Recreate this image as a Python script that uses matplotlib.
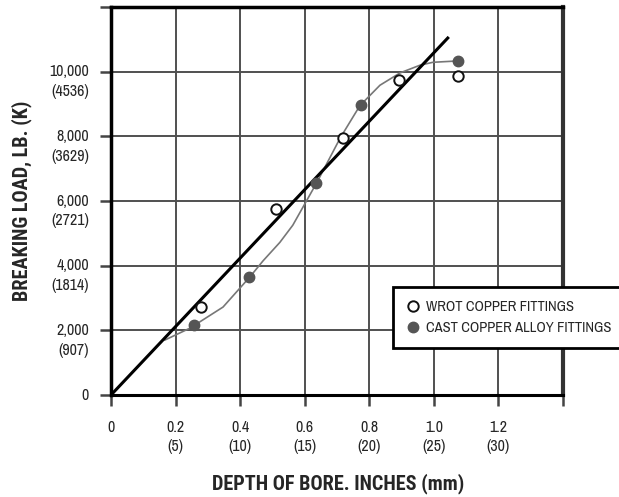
import numpy as np
import matplotlib
matplotlib.use("Agg")
import matplotlib.pyplot as plt

## Fuentes condensadas (como Helvetica Condensed del original)
fam_reg = ['Archivo Narrow', 'Roboto Condensed', 'DejaVu Sans']
fam_bold = ['Roboto Condensed', 'Barlow Condensed', 'DejaVu Sans']
plt.rcParams['font.family'] = fam_reg

## Datos
wrot_x = [0.279, 0.511, 0.718, 0.891, 1.074]
wrot_y = [2720, 5750, 7940, 9740, 9860]

cast_x = [0.257, 0.428, 0.634, 0.774, 1.074]
cast_y = [2160, 3650, 6550, 8960, 10320]

# curva gris (ajuste) leida punto a punto
curve_x = [0.167, 0.245, 0.347, 0.430, 0.471, 0.523, 0.563, 0.594, 0.638,
           0.668, 0.710, 0.771, 0.833, 0.895, 0.957, 0.997, 1.071]
curve_y = [1700, 2070, 2720, 3650, 4150, 4720, 5250, 5800, 6580,
           7150, 7950, 8950, 9580, 9960, 10200, 10290, 10330]

# recta de referencia
line_x = [0.0, 1.043]
line_y = [0, 11040]

xticks = [0, 0.2, 0.4, 0.6, 0.8, 1.0, 1.2]
xlabels = ["0", "0.2", "0.4", "0.6", "0.8", "1.0", "1.2"]
xlabels_mm = ["", "(5)", "(10)", "(15)", "(20)", "(25)", "(30)"]

yticks = [0, 2000, 4000, 6000, 8000, 10000]
ylabels = ["0", "2,000", "4,000", "6,000", "8,000", "10,000"]
ylabels_kg = ["", "(907)", "(1814)", "(2721)", "(3629)", "(4536)"]

txt = "#262626"

fig = plt.figure(figsize=(6.19, 4.97), dpi=100)
ax = fig.add_axes([111/619, 1-395/497, (563-111)/619, (395-7)/497])

ax.set_xlim(0, 1.4)
ax.set_ylim(0, 12000)
ax.set_xticks(np.arange(0, 1.41, 0.2))
ax.set_yticks(np.arange(0, 12001, 2000))
ax.set_xticklabels([])
ax.set_yticklabels([])
ax.grid(True, color="#505050", linewidth=1.4)
ax.set_axisbelow(True)
ax.tick_params(length=8, width=1.8, color="#444444")

ax.spines['left'].set_linewidth(2.5)
ax.spines['bottom'].set_linewidth(2.2)
ax.spines['top'].set_linewidth(2.5)
ax.spines['right'].set_linewidth(3)
ax.spines['right'].set_color("#333333")

## Graficar
ax.plot(curve_x, curve_y, color="#777777", linewidth=1.2, zorder=3)
ax.plot(line_x, line_y, color="black", linewidth=2.2, zorder=4)
ax.plot(wrot_x, wrot_y, 'o', markersize=7.5, markerfacecolor="white",
        markeredgecolor="#111111", markeredgewidth=1.4, zorder=5,
        label="WROT COPPER FITTINGS")
ax.plot(cast_x, cast_y, 'o', markersize=7.5, markerfacecolor="#555555",
        markeredgecolor="#555555", zorder=5, label="CAST COPPER ALLOY FITTINGS")

# etiquetas de los ejes (dos lineas)
fs_tick = 11.5
for v, a, b in zip(yticks, ylabels, ylabels_kg):
    ax.annotate(a, xy=(0, v), xycoords=ax.get_yaxis_transform(), xytext=(-22, 0),
                textcoords='offset pixels', ha='right', va='center', fontsize=fs_tick, color=txt)
    if b:
        ax.annotate(b, xy=(0, v), xycoords=ax.get_yaxis_transform(), xytext=(-22, -20),
                    textcoords='offset pixels', ha='right', va='center', fontsize=fs_tick, color=txt)

for v, a, b in zip(xticks, xlabels, xlabels_mm):
    ax.annotate(a, xy=(v, 0), xycoords=ax.get_xaxis_transform(), xytext=(0, -33),
                textcoords='offset pixels', ha='center', va='center', fontsize=fs_tick, color=txt)
    if b:
        ax.annotate(b, xy=(v, 0), xycoords=ax.get_xaxis_transform(), xytext=(0, -52),
                    textcoords='offset pixels', ha='center', va='center', fontsize=fs_tick, color=txt)

fig.text(22/619, 1-201/497, "BREAKING LOAD, LB. (K)", rotation=90, ha='center', va='center',
         fontsize=14.6, fontweight='bold', color=txt, family=fam_bold)
fig.text(338/619, 1-484/497, "DEPTH OF BORE. INCHES (mm)", ha='center', va='center',
         fontsize=14.6, fontweight='bold', color=txt, family=fam_bold)

leg = ax.legend(loc='upper left', bbox_to_anchor=(393/619, 1-287/497),
                bbox_transform=fig.transFigure, fancybox=False, framealpha=1,
                edgecolor="black", fontsize=10.5, handletextpad=0.4, handlelength=1.0,
                borderpad=0.87, labelspacing=0.5, borderaxespad=0)
leg.get_frame().set_linewidth(2)
for t in leg.get_texts():
    t.set_color(txt)

plt.savefig("out.png", format='png')
